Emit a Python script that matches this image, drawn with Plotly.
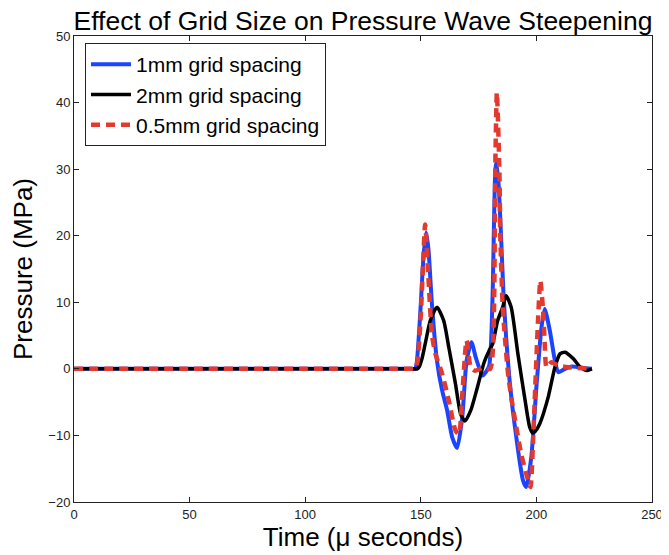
import plotly.graph_objects as go

# ---- data ----
x_1mm = [0, 50, 100, 140, 146, 147.5, 148.2, 149.7, 151.2, 152.3, 153.3, 154.8, 157.0, 159.2, 161.4, 163.6, 165.7,
         167.9, 169.8, 171.9, 173.8, 176.7, 178.5, 179.6, 180.4, 181.1, 182.2, 182.6, 183.6,
         184.7, 185.7, 186.9, 188.4, 189.8, 191.3, 192.7, 194.2, 195.6, 197.8, 200.0, 202.2,
         203.6, 205.8, 208.0, 209.5, 212.4, 215.3, 221.2, 224.0]
y_1mm = [0, 0, 0, 0, 0, 0, 0.8, 8.0, 17.0, 20.5, 18.0, 9.8, 1.2, -3.2, -6.25, -10.3, -11.9,
         -7.4, 1.2, 4.0, 1.7, -1.0, -0.3, 0.5, 4.0, 11.75, 29.7, 31.0, 28.0,
         20.0, 11.75, 4.75, -1.75, -6.25, -10.25, -13.75, -16.75, -17.75, -13.25, -2.75, 6.25,
         9.0, 5.75, 1.25, -0.5, 0.0, 0.35, 0.1, 0.0]

x_2mm = [0, 50, 100, 140, 147, 148.5, 149.3, 150.5, 151.9, 154.1, 157.0, 159.9, 162.1, 165.0, 167.2, 169.1,
         171.6, 174.5, 177.4, 179.5, 181.1, 183.2, 185.4, 186.9, 189.1, 192.0, 194.9, 197.1,
         198.5, 199.5, 201.5, 205.1, 208.0, 210.2, 212.4, 216.0, 219.0, 221.9, 224.0]
y_2mm = [0, 0, 0, 0, 0, 0, 0.3, 1.5, 3.75, 7.25, 9.25, 7.25, 3.25, -2.25, -6.75, -7.85,
         -6.25, -2.75, 1.0, 2.7, 3.75, 7.2, 9.25, 11.0, 9.25, 2.25, -4.25, -8.75,
         -9.65, -9.4, -8.2, -4.25, 0.25, 2.25, 2.5, 1.5, 0.25, -0.25, 0.0]

x_05mm = [0, 50, 100, 140, 146, 147.5, 148.5, 150.0, 151.0, 151.9, 153.3, 154.8, 156.3, 159.2, 162.1, 165.0,
          166.5, 167.9, 169.8, 171.6, 173.5, 176.7, 180.0, 181.2, 181.8, 182.2, 182.9, 184.0,
          184.4, 185.4, 186.1, 187.6, 189.1, 191.3, 193.4, 195.6, 197.4, 198.5, 199.5,
          200.7, 201.7, 202.9, 203.6, 204.4, 206.5, 209.5, 213.8, 224.0]
y_05mm = [0, 0, 0, 0, 0, 0, 1.0, 8.0, 16.0, 21.7, 13.7, 5.2, 2.3, -0.7, -4.75, -9.25,
          -9.8, -4.1, 4.25, 0.25, -0.3, 0.2, 0.0, 3.0, 12.0, 29.7, 41.5, 29.7,
          19.75, 9.5, 6.0, -0.25, -4.25, -8.75, -12.75, -15.75, -17.75, -11.25, -2.75,
          7.25, 13.25, 8.75, 3.75, 0.25, 1.0, 0.5, 0.25, 0.0]

x_ticks = [0, 50, 100, 150, 200, 250]
y_ticks = [-20, -10, 0, 10, 20, 30, 40, 50]

FONT = "Liberation Sans, Arial, Helvetica, sans-serif"

fig = go.Figure()
fig.add_trace(go.Scatter(x=x_1mm, y=y_1mm, mode="lines", name="1mm grid spacing",
                         line=dict(color="#1a44ff", width=4, shape="spline", smoothing=0.6)))
fig.add_trace(go.Scatter(x=x_2mm, y=y_2mm, mode="lines", name="2mm grid spacing",
                         line=dict(color="#000000", width=3.5, shape="spline", smoothing=0.6)))
fig.add_trace(go.Scatter(x=x_05mm, y=y_05mm, mode="lines", name="0.5mm grid spacing",
                         line=dict(color="#e23a2e", width=4.5, dash="9px,6px",
                                   shape="spline", smoothing=0.6)))

axis_common = dict(showgrid=False, zeroline=False, showline=True, linecolor="#222",
                   linewidth=1, mirror="ticks", ticks="inside", ticklen=5, automargin=False,
                   tickcolor="#222", tickfont=dict(family=FONT, size=13, color="#222"))

# page body has an 8px margin: figure is sized to fill the rest of the 669x555 window
W, H = 661, 547
fig.update_layout(
    width=W, height=H,
    paper_bgcolor="white", plot_bgcolor="white",
    margin=dict(l=66, r=17, t=28, b=53, autoexpand=False),
    title=dict(text="Effect of Grid Size on Pressure Wave Steepening",
               font=dict(family=FONT, size=26.5, color="#000"),
               x=0.5, xref="paper", xanchor="center",
               y=1 - 13 / H, yref="container", yanchor="middle", automargin=False),
    xaxis=dict(range=[0, 250], tickvals=x_ticks,
               title=dict(text="Time (\u03bc seconds)", font=dict(family=FONT, size=26, color="#000"),
                          standoff=5),
               **axis_common),
    yaxis=dict(range=[-20, 50], tickvals=y_ticks,
               title=dict(text="Pressure (MPa)", font=dict(family=FONT, size=26, color="#000"),
                          standoff=11),
               **axis_common),
    legend=dict(x=0.019, y=0.985, xanchor="left", yanchor="top",
                bgcolor="white", bordercolor="#222", borderwidth=1,
                font=dict(family=FONT, size=21, color="#000"),
                itemwidth=40, tracegroupgap=0),
    showlegend=True,
)

fig.write_html("out.html")
